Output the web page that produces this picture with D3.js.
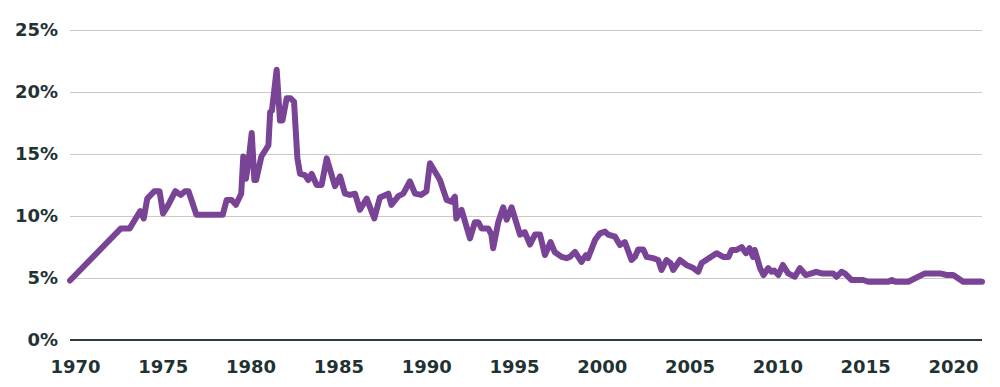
<!DOCTYPE html>
<html>
<head>
<meta charset="utf-8">
<script src="https://cdn.jsdelivr.net/npm/d3@7"></script>
<style>
  body { margin: 0; background: #fff; }
  svg text { font-family: "DejaVu Sans", sans-serif; font-weight: bold; fill: #1f3333; }
</style>
</head>
<body>
<svg id="chart"></svg>
<script>
const width = 1000,
      height = 387;

const MARGIN = { LEFT: 70, RIGHT: 18, TOP: 30, BOTTOM: 47 };

// rate series (year as decimal, rate in %)
const years = [
  1970.0, 1972.9, 1973.4, 1974.0, 1974.2, 1974.4, 1974.8, 1975.1, 1975.3, 1975.6,
  1976.0, 1976.3, 1976.55, 1976.75, 1977.2, 1978.7, 1978.92, 1979.2, 1979.45, 1979.75,
  1979.87, 1980.02, 1980.15, 1980.35, 1980.5, 1980.6, 1980.9, 1981.3, 1981.4, 1981.5,
  1981.77, 1981.96, 1982.1, 1982.34, 1982.56, 1982.76, 1982.95, 1983.1, 1983.38, 1983.57,
  1983.76, 1984.05, 1984.33, 1984.62, 1985.09, 1985.38, 1985.66, 1985.95, 1986.23, 1986.51,
  1986.9, 1987.33, 1987.65, 1988.13, 1988.3, 1988.7, 1988.98, 1989.36, 1989.65, 1990.0,
  1990.3, 1990.5, 1991.07, 1991.45, 1991.73, 1991.92, 1992.0, 1992.3, 1992.78, 1993.06,
  1993.25, 1993.44, 1993.82, 1994.0, 1994.1, 1994.39, 1994.67, 1994.87, 1995.15, 1995.63,
  1995.9, 1996.2, 1996.48, 1996.77, 1997.05, 1997.37, 1997.6, 1998.0, 1998.28, 1998.47,
  1998.76, 1999.13, 1999.38, 1999.5, 1999.9, 2000.18, 2000.47, 2000.65, 2001.04, 2001.32,
  2001.6, 2001.98, 2002.17, 2002.36, 2002.65, 2002.84, 2003.2, 2003.5, 2003.69, 2003.97,
  2004.2, 2004.35, 2004.74, 2005.1, 2005.5, 2005.78, 2005.97, 2006.82, 2007.2, 2007.5,
  2007.68, 2007.96, 2008.25, 2008.5, 2008.7, 2008.9, 2009.0, 2009.3, 2009.5, 2009.76,
  2009.95, 2010.1, 2010.34, 2010.6, 2010.9, 2011.28, 2011.57, 2011.9, 2012.23, 2012.5,
  2012.8, 2013.46, 2013.66, 2013.94, 2014.13, 2014.5, 2015.17, 2015.46, 2016.6, 2016.8,
  2016.98, 2017.74, 2018.69, 2019.55, 2019.93, 2020.3, 2020.87, 2021.94
];
const rates = [
  4.8, 9.0, 9.0, 10.4, 9.8, 11.4, 12.0, 12.0, 10.2, 10.9,
  12.0, 11.7, 12.0, 12.0, 10.1, 10.1, 11.3, 11.3, 10.9, 11.8,
  14.8, 13.0, 14.2, 16.7, 12.9, 12.9, 14.8, 15.7, 18.4, 18.5,
  21.8, 17.7, 17.7, 19.5, 19.5, 19.2, 14.65, 13.4, 13.3, 12.9,
  13.4, 12.5, 12.5, 14.65, 12.4, 13.2, 11.8, 11.7, 11.8, 10.5,
  11.4, 9.8, 11.5, 11.8, 10.9, 11.6, 11.8, 12.8, 11.8, 11.7,
  12.0, 14.25, 12.9, 11.3, 11.15, 11.56, 9.8, 10.5, 8.2, 9.5,
  9.5, 9.0, 9.0, 8.5, 7.4, 9.5, 10.7, 9.7, 10.7, 8.5,
  8.7, 7.7, 8.5, 8.5, 6.85, 7.9, 7.1, 6.7, 6.6, 6.7,
  7.1, 6.3, 6.85, 6.6, 8.06, 8.6, 8.74, 8.5, 8.33, 7.66,
  7.9, 6.45, 6.7, 7.3, 7.3, 6.7, 6.6, 6.45, 5.65, 6.45,
  6.2, 5.65, 6.45, 6.05, 5.8, 5.5, 6.2, 7.0, 6.7, 6.7,
  7.26, 7.26, 7.5, 7.0, 7.4, 6.7, 7.26, 5.8, 5.24, 5.8,
  5.5, 5.6, 5.24, 6.05, 5.37, 5.1, 5.8, 5.24, 5.37, 5.5,
  5.37, 5.37, 5.1, 5.5, 5.37, 4.84, 4.84, 4.7, 4.7, 4.84,
  4.7, 4.7, 5.37, 5.37, 5.24, 5.24, 4.7, 4.7
];

const yTicks = [0, 5, 10, 15, 20, 25];
const xTicks = [1970, 1975, 1980, 1985, 1990, 1995, 2000, 2005, 2010, 2015, 2020];

const data = years.map((yr, i) => ({ year: yr, rate: rates[i] }));

const svg = d3.select("#chart")
    .attr("width", width)
    .attr("height", height);

const x = d3.scaleLinear()
    .domain([1970, 2021.94])
    .range([MARGIN.LEFT, width - MARGIN.RIGHT]);

const y = d3.scaleLinear()
    .domain([0, 25])
    .range([height - MARGIN.BOTTOM, MARGIN.TOP]);

// gridlines + y labels
const yAxis = svg.append("g")
    .attr("transform", `translate(${MARGIN.LEFT},0)`)
    .call(d3.axisLeft(y)
        .tickValues(yTicks)
        .tickFormat(d => d + "%")
        .tickSize(-(width - MARGIN.LEFT - MARGIN.RIGHT))
        .tickPadding(12));
yAxis.select(".domain").remove();
yAxis.selectAll(".tick line").attr("stroke", "#c9c9c9").attr("stroke-width", 1);
yAxis.selectAll(".tick text").style("font-size", "18px").attr("fill", "#1f3333");

// x labels (no ticks)
const xAxis = svg.append("g")
    .attr("transform", `translate(0,${y(0)})`)
    .call(d3.axisBottom(x)
        .tickValues(xTicks)
        .tickFormat(d3.format("d"))
        .tickSize(0)
        .tickPadding(20));
xAxis.select(".domain").remove();
xAxis.selectAll(".tick text")
    .style("font-size", "18px")
    .attr("fill", "#1f3333")
    .attr("dx", 5);

// baseline at 0%
svg.append("line")
    .attr("x1", x(1970)).attr("x2", x(2021.94))
    .attr("y1", y(0)).attr("y2", y(0))
    .attr("stroke", "#2b3c3c")
    .attr("stroke-width", 2);

const line = d3.line()
    .x(d => x(d.year))
    .y(d => y(d.rate));

svg.append("path")
    .datum(data)
    .attr("fill", "none")
    .attr("stroke", "#7a4496")
    .attr("stroke-width", 6)
    .attr("stroke-linejoin", "round")
    .attr("stroke-linecap", "round")
    .attr("d", line);
</script>
</body>
</html>
